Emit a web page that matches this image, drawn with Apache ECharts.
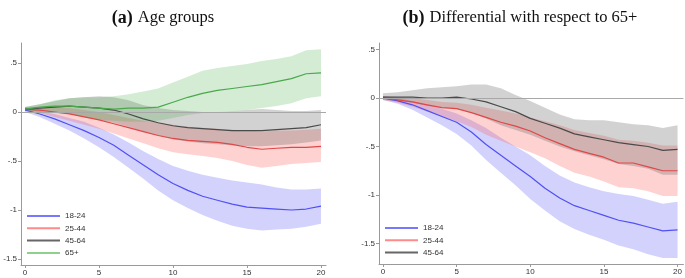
<!DOCTYPE html>
<html>
<head>
<meta charset="utf-8">
<script src="https://cdn.jsdelivr.net/npm/echarts@6/dist/echarts.min.js"></script>
<style>
  html, body { margin: 0; padding: 0; background: #fff; }
  #chart { width: 685px; height: 278px; }
</style>
</head>
<body>
<div id="chart"></div>
<script>
// horizon (x axis)
var steps = [0, 1, 2, 3, 4, 5, 6, 7, 8, 9, 10, 11, 12, 13, 14, 15, 16, 17, 18, 19, 20];
var xTicks = [0, 5, 10, 15, 20];
var yTicks = [-1.5, -1, -0.5, 0, 0.5];
var yTickLabels = ['-1.5', '-1', '-.5', '0', '.5'];

var groupsA = ['18-24', '25-44', '45-64', '65+'];
var groupsB = ['18-24', '25-44', '45-64'];

// (a) age groups : point estimate, upper and lower bound
var a1824 = [0.02, -0.02, -0.07, -0.13, -0.19, -0.26, -0.34, -0.44, -0.54, -0.64, -0.73, -0.80, -0.86, -0.90, -0.94, -0.97, -0.98, -0.99, -1.00, -0.99, -0.96];
var a1824Hi = [0.04, 0.01, -0.02, -0.06, -0.10, -0.16, -0.23, -0.31, -0.40, -0.48, -0.55, -0.60, -0.64, -0.67, -0.70, -0.72, -0.74, -0.77, -0.79, -0.79, -0.78];
var a1824Lo = [0.00, -0.05, -0.12, -0.19, -0.27, -0.36, -0.46, -0.57, -0.68, -0.80, -0.90, -0.98, -1.05, -1.11, -1.16, -1.19, -1.21, -1.20, -1.19, -1.17, -1.14];

var a2544 = [0.03, 0.02, 0.00, -0.02, -0.05, -0.08, -0.12, -0.16, -0.20, -0.24, -0.27, -0.29, -0.30, -0.31, -0.33, -0.36, -0.38, -0.37, -0.36, -0.36, -0.35];
var a2544Hi = [0.05, 0.05, 0.05, 0.04, 0.02, 0.00, -0.03, -0.06, -0.09, -0.11, -0.13, -0.15, -0.16, -0.17, -0.18, -0.19, -0.20, -0.19, -0.19, -0.18, -0.17];
var a2544Lo = [0.01, -0.01, -0.05, -0.09, -0.13, -0.17, -0.22, -0.27, -0.32, -0.37, -0.41, -0.43, -0.45, -0.47, -0.50, -0.54, -0.57, -0.55, -0.53, -0.52, -0.51];

var a4564 = [0.03, 0.04, 0.05, 0.06, 0.05, 0.04, 0.02, -0.02, -0.07, -0.11, -0.14, -0.16, -0.17, -0.18, -0.19, -0.19, -0.19, -0.18, -0.17, -0.16, -0.13];
var a4564Hi = [0.05, 0.08, 0.11, 0.14, 0.15, 0.16, 0.15, 0.12, 0.07, 0.04, 0.02, 0.01, 0.00, 0.00, 0.01, 0.02, 0.03, 0.02, 0.01, 0.01, 0.02];
var a4564Lo = [0.01, 0.00, -0.01, -0.02, -0.05, -0.08, -0.11, -0.15, -0.20, -0.24, -0.28, -0.30, -0.32, -0.33, -0.34, -0.35, -0.35, -0.34, -0.33, -0.31, -0.29];

var a65 = [0.03, 0.05, 0.06, 0.06, 0.05, 0.04, 0.03, 0.04, 0.04, 0.05, 0.10, 0.15, 0.19, 0.22, 0.24, 0.26, 0.28, 0.31, 0.34, 0.39, 0.40];
var a65Hi = [0.05, 0.08, 0.12, 0.14, 0.15, 0.15, 0.16, 0.18, 0.21, 0.24, 0.30, 0.36, 0.42, 0.45, 0.47, 0.49, 0.52, 0.54, 0.57, 0.63, 0.64];
var a65Lo = [0.01, 0.01, 0.00, -0.02, -0.05, -0.08, -0.09, -0.10, -0.10, -0.09, -0.06, -0.03, -0.01, 0.00, 0.01, 0.02, 0.04, 0.06, 0.09, 0.14, 0.16];

// (b) differential with respect to 65+
var b1824 = [0.00, -0.03, -0.07, -0.13, -0.19, -0.25, -0.35, -0.48, -0.59, -0.70, -0.81, -0.93, -1.03, -1.11, -1.16, -1.21, -1.26, -1.29, -1.33, -1.37, -1.36];
var b1824Hi = [0.02, 0.00, -0.03, -0.07, -0.11, -0.16, -0.23, -0.31, -0.41, -0.50, -0.59, -0.70, -0.80, -0.87, -0.92, -0.96, -0.99, -1.01, -1.05, -1.09, -1.07];
var b1824Lo = [-0.02, -0.06, -0.12, -0.20, -0.28, -0.37, -0.49, -0.64, -0.77, -0.90, -1.04, -1.16, -1.27, -1.35, -1.41, -1.46, -1.52, -1.56, -1.61, -1.65, -1.65];

var b2544 = [0.00, -0.02, -0.04, -0.07, -0.10, -0.11, -0.15, -0.20, -0.25, -0.29, -0.34, -0.41, -0.47, -0.53, -0.57, -0.61, -0.67, -0.67, -0.71, -0.75, -0.75];
var b2544Hi = [0.02, 0.01, 0.00, -0.02, -0.04, -0.05, -0.07, -0.10, -0.13, -0.16, -0.20, -0.24, -0.28, -0.33, -0.36, -0.39, -0.43, -0.44, -0.46, -0.49, -0.49];
var b2544Lo = [-0.02, -0.05, -0.09, -0.14, -0.19, -0.24, -0.30, -0.38, -0.44, -0.50, -0.56, -0.62, -0.70, -0.77, -0.81, -0.86, -0.92, -0.93, -0.96, -1.01, -1.01];

var b4564 = [0.01, 0.01, 0.01, 0.00, 0.00, 0.01, -0.01, -0.04, -0.09, -0.14, -0.21, -0.26, -0.31, -0.37, -0.40, -0.43, -0.46, -0.48, -0.50, -0.54, -0.53];
var b4564Hi = [0.05, 0.06, 0.08, 0.10, 0.11, 0.12, 0.14, 0.14, 0.10, 0.03, -0.03, -0.10, -0.17, -0.22, -0.23, -0.23, -0.25, -0.27, -0.28, -0.31, -0.28];
var b4564Lo = [-0.02, -0.03, -0.05, -0.08, -0.10, -0.11, -0.15, -0.21, -0.28, -0.33, -0.38, -0.44, -0.50, -0.55, -0.59, -0.63, -0.68, -0.70, -0.73, -0.79, -0.79];

var lineColors = { '18-24': '#5050f5', '25-44': '#dd4848', '45-64': '#4a4a4a', '65+': '#4aa84a' };
var legendColors = { '18-24': '#7878ff', '25-44': '#ff8a8a', '45-64': '#666666', '65+': '#8fd08f' };
var bandColors = { '18-24': 'rgba(95,95,245,0.28)', '25-44': 'rgba(255,95,95,0.28)', '45-64': 'rgba(95,95,95,0.28)', '65+': 'rgba(70,175,70,0.24)' };

function pairs(vals) {
    return steps.map(function (s, i) { return [s, vals[i]]; });
}

// confidence band: one polygon, upper edge then lower edge back
function band(name, g, lo, hi) {
    return {
        name: name + ' ci' + g, type: 'custom', xAxisIndex: g, yAxisIndex: g, silent: true, z: 1,
        data: steps.map(function (s, i) { return [s, lo[i], hi[i]]; }),
        encode: { x: 0, y: [1, 2] },
        renderItem: function (params, api) {
            if (params.dataIndex !== 0) return;
            var pts = [];
            for (var i = 0; i < steps.length; i++) pts.push(api.coord([steps[i], hi[i]]));
            for (var j = steps.length - 1; j >= 0; j--) pts.push(api.coord([steps[j], lo[j]]));
            return { type: 'polygon', shape: { points: pts }, style: { fill: bandColors[name] } };
        }
    };
}

function line(name, g, vals) {
    return {
        name: name, type: 'line', xAxisIndex: g, yAxisIndex: g, data: pairs(vals),
        symbol: 'none', z: 3, silent: true,
        lineStyle: { color: lineColors[name], width: 1.2 },
        itemStyle: { color: lineColors[name] }
    };
}

var zeroLine = {
    name: 'zero', type: 'line', data: [], silent: true,
    markLine: { symbol: 'none', silent: true, label: { show: false },
        lineStyle: { color: '#a8a8a8', type: 'solid', width: 1 }, data: [{ yAxis: 0 }] }
};

var series = [];
series.push(band('18-24', 0, a1824Lo, a1824Hi), band('25-44', 0, a2544Lo, a2544Hi),
    band('45-64', 0, a4564Lo, a4564Hi), band('65+', 0, a65Lo, a65Hi));
series.push(band('18-24', 1, b1824Lo, b1824Hi), band('25-44', 1, b2544Lo, b2544Hi),
    band('45-64', 1, b4564Lo, b4564Hi));
series.push(Object.assign({ xAxisIndex: 0, yAxisIndex: 0 }, zeroLine));
series.push(Object.assign({ xAxisIndex: 1, yAxisIndex: 1 }, zeroLine, { name: 'zero1' }));
series.push(line('18-24', 0, a1824), line('25-44', 0, a2544), line('45-64', 0, a4564), line('65+', 0, a65));
series.push(line('18-24', 1, b1824), line('25-44', 1, b2544), line('45-64', 1, b4564));

function xAxis(g, max) {
    return {
        type: 'value', gridIndex: g, min: -0.27, max: max,
        axisLine: { show: true, onZero: false, lineStyle: { color: '#9a9a9a' } },
        axisTick: { show: true, customValues: xTicks, length: 3, lineStyle: { color: '#9a9a9a' } },
        axisLabel: { customValues: xTicks, fontSize: 8, color: '#333', margin: 4, fontFamily: 'Liberation Sans' },
        splitLine: { show: false }
    };
}
function yAxis(g, min, max) {
    return {
        type: 'value', gridIndex: g, min: min, max: max,
        axisLine: { show: true, onZero: false, lineStyle: { color: '#9a9a9a' } },
        axisTick: { show: true, customValues: yTicks, length: 3, lineStyle: { color: '#9a9a9a' } },
        axisLabel: { customValues: yTicks, fontSize: 8, color: '#333', margin: 4, fontFamily: 'Liberation Sans',
            formatter: function (v) { return yTickLabels[yTicks.indexOf(v)]; } },
        splitLine: { show: false }
    };
}

function legend(left, top, names) {
    return {
        orient: 'vertical', left: left, top: top, padding: 0, itemGap: 2.3,
        icon: 'rect', itemWidth: 33, itemHeight: 2, selectedMode: false,
        textStyle: { fontSize: 8, lineHeight: 10, color: '#333', fontFamily: 'Liberation Sans' },
        data: names.map(function (n) { return { name: n, itemStyle: { color: legendColors[n] } }; })
    };
}

var titleRich = {
    b: { fontFamily: 'Liberation Serif', fontWeight: 'bold', fontSize: 18, color: '#111' },
    t: { fontFamily: 'Liberation Serif', fontWeight: 'normal', fontSize: 16.5, color: '#111' }
};

var myChart = echarts.init(document.getElementById('chart'));
var option = {
    animation: false,
    backgroundColor: '#fff',
    title: [
        { text: '{b|(a)} {t|Age groups}', left: 158, top: 4, textAlign: 'center',
            textStyle: { fontWeight: 'normal', rich: titleRich } },
        { text: '{b|(b)} {t|Differential with respect to 65+}', left: 515, top: 4, textAlign: 'center',
            textStyle: { fontWeight: 'normal', rich: titleRich } }
    ],
    legend: [legend(27, 211, groupsA), legend(385, 223, groupsB)],
    grid: [
        { left: 21, top: 43, width: 305, height: 222 },
        { left: 379, top: 43, width: 306, height: 221 }
    ],
    xAxis: [xAxis(0, 20.34), xAxis(1, 20.4)],
    yAxis: [yAxis(0, -1.561, 0.704), yAxis(1, -1.711, 0.567)],
    series: series
};
myChart.setOption(option);
</script>
</body>
</html>
